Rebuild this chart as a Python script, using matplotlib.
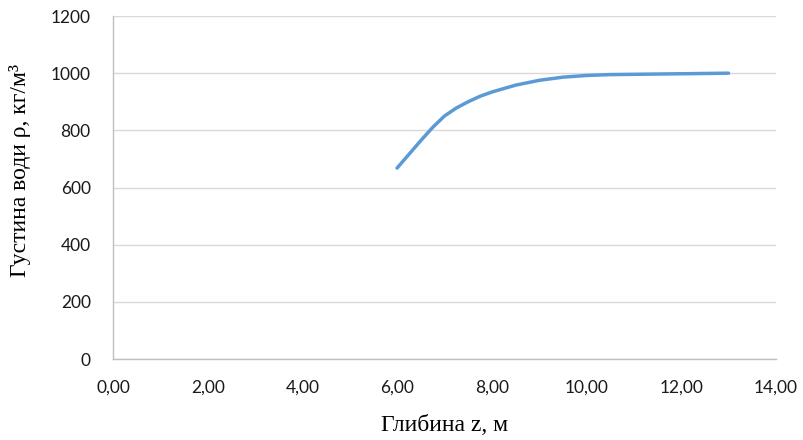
import matplotlib
matplotlib.use('Agg')
import matplotlib.pyplot as plt
from matplotlib.ticker import FuncFormatter

# depth z (m) and water density rho (kg/m3)
depth = [6.0, 6.25, 6.5, 6.75, 7.0, 7.25, 7.5, 7.75, 8.0, 8.5, 9.0, 9.5, 10.0, 10.5, 11.0, 12.0, 13.0]
density = [668, 716, 764, 810, 850, 878, 900, 919, 934, 958, 975, 986, 992, 995, 996, 998, 1000]

x_ticks = [0, 2, 4, 6, 8, 10, 12, 14]
y_ticks = [0, 200, 400, 600, 800, 1000, 1200]

fig = plt.figure(figsize=(8.04, 4.4), dpi=100)
ax = fig.add_axes([0.1405, 0.184, 0.8245, 0.7796])

ax.plot(depth, density, color='#5B9BD5', linewidth=2.5,
        solid_capstyle='round', solid_joinstyle='round')

ax.set_xlim(0, 14)
ax.set_ylim(0, 1200)
ax.set_xticks(x_ticks)
ax.set_yticks(y_ticks)
ax.xaxis.set_major_formatter(FuncFormatter(lambda v, p: f'{v:.2f}'.replace('.', ',')))

# excel-like look
ax.grid(axis='y', color='#D9D9D9', linewidth=1)
ax.set_axisbelow(True)
for s in ['top', 'right']:
    ax.spines[s].set_visible(False)
for s in ['left', 'bottom']:
    ax.spines[s].set_color('#BFBFBF')
    ax.spines[s].set_linewidth(1)
ax.tick_params(length=0, labelsize=12.5, colors='#1a1a1a')
ax.tick_params(axis='x', pad=15)
ax.tick_params(axis='y', pad=16)
for lbl in ax.get_xticklabels() + ax.get_yticklabels():
    lbl.set_family('Lato')

ax.set_xlabel('Глибина z, м', family='Liberation Serif', fontsize=17)
ax.set_ylabel('Густина води ρ, кг/м³', family='Liberation Serif', fontsize=17)
ax.xaxis.set_label_coords(0.5, -0.163)
ax.yaxis.set_label_coords(-0.123, 0.55)

fig.savefig('out.png', dpi=100)
